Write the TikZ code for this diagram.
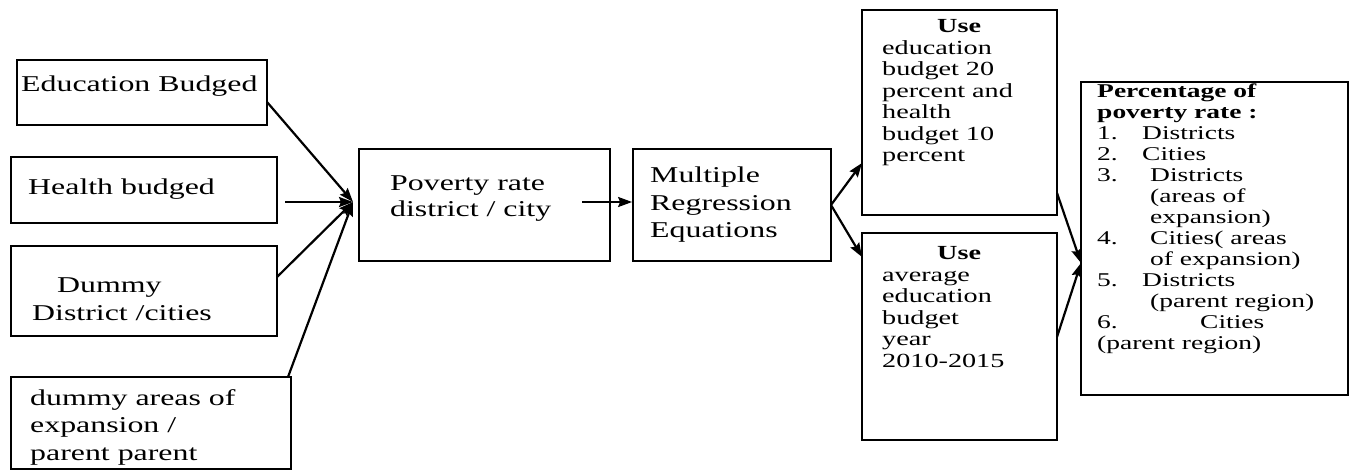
\documentclass[tikz,border=0pt]{standalone}
\usepackage{fontspec}
\setmainfont[FakeStretch=1.41]{Liberation Serif}
\usetikzlibrary{arrows.meta}
\begin{document}
\begin{tikzpicture}[x=1pt,y=-1pt,
  box/.style={draw, line width=1.8pt, inner sep=0pt, rectangle},
  txt/.style={inner sep=0pt, anchor=base west},
  big/.style={font=\fontsize{22.6}{27.5}\selectfont},
  small/.style={font=\fontsize{20}{21.5}\selectfont},
  con/.style={line width=2.2pt, -{Stealth[length=14pt,width=10pt,inset=2pt]}}]
\useasboundingbox (0,0) rectangle (1349,470);

% boxes
\node[box, minimum width=250, minimum height=65] (edu) at (142,92.5) {};
\node[box, minimum width=266, minimum height=66] (hea) at (144,190) {};
\node[box, minimum width=266, minimum height=90] (dum) at (144,291) {};
\node[box, minimum width=280, minimum height=92] (dar) at (151,423) {};
\node[box, minimum width=251, minimum height=112] (pov) at (484.5,205) {};
\node[box, minimum width=198, minimum height=112] (mul) at (732,205) {};
\node[box, minimum width=195, minimum height=205] (use1) at (959.5,112.5) {};
\node[box, minimum width=195, minimum height=207] (use2) at (959.5,336.5) {};
\node[box, minimum width=267, minimum height=313] (fin) at (1214.5,238.5) {};

% texts
\node[txt, big] (t1) at (21,91.7) {Education Budged};
\node[txt, big] (t2) at (28,195) {Health budged};
\node[txt, big] (t3) at (32,293) {\vtop{\hbox{\kern25pt Dummy}\hbox{District /cities}}};
\node[txt, big] (t4) at (30,405) {\vtop{\hbox{dummy areas of}\hbox{expansion /}\hbox{parent parent}}};
\node[txt, big, font=\fontsize{22.6}{26}\selectfont] (t5) at (390,191) {\vtop{\hbox{Poverty rate}\hbox{district / city}}};
\node[txt, big] (t6) at (650,183) {\vtop{\hbox{Multiple}\hbox{Regression}\hbox{Equations}}};
\node[txt, small] (t7) at (882,33) {\vtop{\hbox{\kern55pt\bfseries Use}\hbox{education}\hbox{budget 20}\hbox{percent and}\hbox{health}\hbox{budget 10}\hbox{percent}}};
\node[txt, small] (t8) at (882,260) {\vtop{\hbox{\kern55pt\bfseries Use}\hbox{average}\hbox{education}\hbox{budget}\hbox{year}\hbox{2010-2015}}};
\node[txt, font=\fontsize{19.5}{21}\selectfont] (t9) at (1097,98) {\vtop{%
  \hbox{\bfseries Percentage of}
  \hbox{\bfseries poverty rate :}
  \hbox{\makebox[45pt][l]{1.}Districts}
  \hbox{\makebox[45pt][l]{2.}Cities}
  \hbox{\makebox[53pt][l]{3.}Districts}
  \hbox{\kern53pt (areas of}
  \hbox{\kern53pt expansion)}
  \hbox{\makebox[53pt][l]{4.}Cities( areas}
  \hbox{\kern53pt of expansion)}
  \hbox{\makebox[45pt][l]{5.}Districts}
  \hbox{\kern53pt (parent region)}
  \hbox{\makebox[103pt][l]{6.}Cities}
  \hbox{(parent region)}}};

% connector points
\coordinate (jL) at (353,202);
\coordinate (eduO) at (267,102);
\coordinate (heaO) at (285,202);
\coordinate (dumO) at (277,277);
\coordinate (darO) at (288,377);
\coordinate (povO) at (582,202);
\coordinate (mulO) at (831,205);
\coordinate (u1in) at (862,163);
\coordinate (u2in) at (862,257);
\coordinate (u1O) at (1057,193);
\coordinate (u2O) at (1057,337);
\coordinate (jR) at (1081,263);

\draw[con] (eduO) -- (jL);
\draw[con] (heaO) -- (jL);
\draw[con] (dumO) -- (jL);
\draw[con] (darO) -- (jL);
\draw[con] (povO) -- (mul.west |- povO);
\draw[con] (mulO) -- (u1in);
\draw[con] (mulO) -- (u2in);
\draw[con] (u1O) -- (jR);
\draw[con] (u2O) -- (jR);
\end{tikzpicture}
\end{document}
